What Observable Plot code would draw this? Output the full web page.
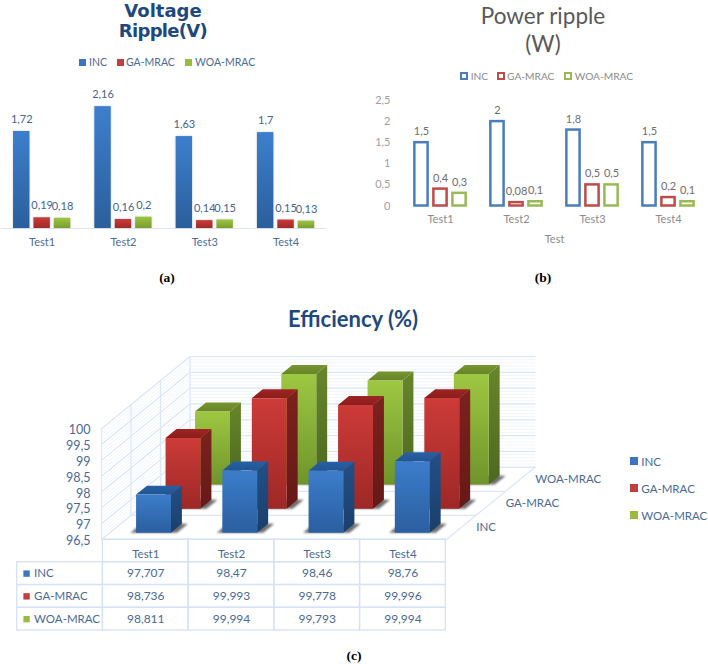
<!DOCTYPE html>
<html><head><meta charset="utf-8">
<script src="https://cdn.jsdelivr.net/npm/d3@7"></script>
<script src="https://cdn.jsdelivr.net/npm/@observablehq/plot@0.6"></script>
<style>
html,body{margin:0;padding:0;background:#fff}
#page{position:relative;width:708px;height:664px;overflow:hidden;font-family:Lato,sans-serif}
#page svg.plot,#page>svg{position:absolute;background:transparent;max-width:none}
.t{position:absolute;white-space:nowrap;line-height:1}
.sw{position:absolute;box-sizing:border-box}
</style></head><body><div id="page"></div>
<script>
const tests = ["Test1","Test2","Test3","Test4"];
const seriesNames = ["INC","GA-MRAC","WOA-MRAC"];

const voltageINC = [1.72,2.16,1.63,1.7];
const voltageGA  = [0.19,0.16,0.14,0.15];
const voltageWOA = [0.18,0.2,0.15,0.13];

const powerINC = [1.5,2,1.8,1.5];
const powerGA  = [0.4,0.08,0.5,0.2];
const powerWOA = [0.3,0.1,0.5,0.1];

const effINC = [97.707,98.47,98.46,98.76];
const effGA  = [98.736,99.993,99.778,99.996];
const effWOA = [98.811,99.994,99.793,99.994];

const powerTicks = [0,0.5,1,1.5,2,2.5];
const effTicks = [96.5,97,97.5,98,98.5,99,99.5,100];

const colors = {"INC":"#3a76bf","GA-MRAC":"#c0403d","WOA-MRAC":"#9abb3f"};
const outline = {"INC":"#4a7ebb","GA-MRAC":"#be4b48","WOA-MRAC":"#98b954"};
const comma = v => String(v).replace(".",",");
const table = vals => seriesNames.flatMap((s,k)=>tests.map((t,i)=>({series:s,test:t,testIndex:i,row:k,value:vals[k][i]})));

const page = document.getElementById("page");
function add(node,left,top){node.style.position="absolute";node.style.left=left+"px";node.style.top=top+"px";page.append(node);}
function text(str,x,y,css,anchor="left"){
  const d=document.createElement("div");d.className="t";d.textContent=str;
  Object.assign(d.style,css);d.style.left=x+"px";d.style.top=y+"px";
  d.style.transform=anchor==="center"?"translate(-50%,-50%)":"translate(0,-50%)";
  page.append(d);
}
function swatch(x,y,w,h,css){const d=document.createElement("div");d.className="sw";
  Object.assign(d.style,{left:x+"px",top:(y-h/2)+"px",width:w+"px",height:h+"px"},css);page.append(d);}
function gradients(defs){return ()=>{
  const s=d3.create("svg:defs");
  for(const [id,a,b] of defs){
    const g=s.append("linearGradient").attr("id",id).attr("x1",0).attr("x2",0).attr("y1",0).attr("y2",1);
    g.append("stop").attr("offset","0%").attr("stop-color",a);
    g.append("stop").attr("offset","100%").attr("stop-color",b);
  }
  return s.node();
};}

/* ---------- (a) ---------- */
text("Voltage",163,10,{font:"bold 18px 'DejaVu Sans'",color:"#1f497d"},"center");
text("Ripple(V)",163,30,{font:"bold 18px 'DejaVu Sans'",color:"#1f497d",letterSpacing:"-0.7px"},"center");
[[79,89,"INC"],[117,126,"GA-MRAC"],[185,195,"WOA-MRAC"]].forEach(([sx,tx,s])=>{
  swatch(sx,62,7,7,{background:colors[s]});
  text(s,tx,62,{font:"10.5px Lato",color:"#4a6a96"});
});
const voltage = table([voltageINC,voltageGA,voltageWOA]);
const gradA = {"INC":["#3d7fcd","#2a5f9c"],"GA-MRAC":["#cb3a38","#a02a28"],"WOA-MRAC":["#9dc540","#7a9c30"]};
add(Plot.plot({
  width:327,height:171,marginLeft:1,marginRight:0.8,marginTop:0,marginBottom:30,
  style:{fontFamily:"Lato",fontSize:"11px",color:"#4a6d9c",background:"transparent"},
  fx:{domain:tests,padding:0,round:false},
  x:{domain:seriesNames,paddingInner:0.196,paddingOuter:0.59,axis:null,round:false},
  y:{domain:[0,2.5],axis:null},
  marks:[
    gradients(seriesNames.map(s=>["a"+s,...gradA[s]])),
    Plot.ruleY([0],{stroke:"#dfe5ec"}),
    ...seriesNames.map(s=>Plot.barY(voltage.filter(d=>d.series===s),{fx:"test",x:"series",y:"value",fill:`url(#a${s})`,imageFilter:"drop-shadow(0 0 1px #c4ccd6)"})),
    Plot.text(voltage,{fx:"test",x:"series",y:"value",text:d=>comma(d.value),dy:-12,fill:"#46648f",fontSize:11}),
    Plot.axisFx({anchor:"bottom",tickSize:0,tickPadding:10,label:null})
  ]
}),0,87);
text("(a)",167,278,{font:"bold 13.5px 'Liberation Serif'",color:"#000"},"center");

/* ---------- (b) ---------- */
text("Power ripple",543,15,{font:"22.5px Lato",color:"#595959"},"center");
text("(W)",543,43,{font:"22.5px Lato",color:"#595959"},"center");
[[460,470.7,"INC"],[496.7,507,"GA-MRAC"],[564,574.7,"WOA-MRAC"]].forEach(([sx,tx,s])=>{
  swatch(sx,75.7,8,8,{border:"2px solid "+outline[s]});
  text(s,tx,75.7,{font:"10.2px Lato",color:"#8a8a8a"});
});
const power = table([powerINC,powerGA,powerWOA]);
add(Plot.plot({
  width:354,height:156,marginLeft:48,marginRight:2,marginTop:10,marginBottom:40.5,
  style:{fontFamily:"Lato",fontSize:"11px",color:"#8c8c8c",background:"transparent"},
  fx:{domain:tests,padding:0,round:false},
  x:{domain:seriesNames,paddingInner:0.305,paddingOuter:0.65,axis:null,round:false},
  y:{domain:[0,2.5],round:false},
  marks:[
    ...seriesNames.map(s=>Plot.barY(power.filter(d=>d.series===s),{fx:"test",x:"series",y:"value",fill:"none",stroke:outline[s],strokeWidth:2.5})),
    Plot.text(power,{fx:"test",x:"series",y:"value",text:d=>comma(d.value),dy:-11,fill:"#6e6e6e",fontSize:11}),
    Plot.axisY({ticks:powerTicks,tickFormat:comma,tickSize:0,tickPadding:12,label:null,color:"#a0a0a0"}),
    Plot.axisFx({anchor:"bottom",tickSize:0,tickPadding:9,label:"Test",labelAnchor:"center",labelArrow:"none",labelOffset:36.5})
  ]
}),354,90);
text("(b)",543,278,{font:"bold 13.5px 'Liberation Serif'",color:"#000"},"center");

/* ---------- (c) ---------- */
text("Efficiency (%)",353,318,{font:"bold 22px Lato",color:"#1f497d"},"center");
seriesNames.forEach((s,k)=>{
  const y=[460.7,488,514.7][k];
  swatch(630.3,y,7.5,8,{background:colors[s]});
  text(s,641.3,y,{font:"11.5px Lato",color:"#4a6a96"});
});

const SU=0.342, SV=0.761;           // oblique shift per depth row, in scale units
const base=96.5;
const P=(u,row,v)=>({u:u+row*SU,v:v+row*SV});
const eff = table([effINC,effGA,effWOA]);
const faces = eff.flatMap(d=>{
  const x0=d.testIndex+0.305,x1=d.testIndex+0.71,r0=d.row+0.28,r1=d.row+0.65,v=d.value;
  const f=(face,pts)=>pts.map(p=>({...p,face,series:d.series,id:d.test}));
  return [
    ...f("shadow",[P(x0-0.065,r0,base),P(x1+0.07,r0,base),P(x1+0.07,r1,base),P(x0-0.065,r1,base)]),
    ...f("side",[P(x1,r0,base),P(x1,r1,base),P(x1,r1,v),P(x1,r0,v)]),
    ...f("top",[P(x0,r0,v),P(x1,r0,v),P(x1,r1,v),P(x0,r1,v)]),
    ...f("front",[P(x0,r0,base),P(x1,r0,base),P(x1,r0,v),P(x0,r0,v)])
  ];
});
const minor=d3.range(0,36).map(k=>base+k/10);
const seg=(id,a,b)=>[{...a,id},{...b,id}];
const wallMinor=minor.flatMap(v=>[...seg("b"+v,P(0,3,v),P(4,3,v)),...seg("l"+v,P(0,0,v),P(0,3,v))]);
const wallMajor=effTicks.flatMap(v=>[...seg("b"+v,P(0,3,v),P(4,3,v)),...seg("l"+v,P(0,0,v),P(0,3,v))]);
const floorLines=[
  ...[0,1,2,3].flatMap(r=>[...seg("f"+r,P(0,r,base),P(4,r,base)),...seg("v"+r,P(0,r,base),P(0,r,100))]),
  ...seg("e",P(4,0,base),P(4,3,base))
];
const gradC={
 "INC":{front:["#3c7dcb","#2b5f9f"],side:["#234f86","#1b3f6c"],top:["#2660a6","#225691"]},
 "GA-MRAC":{front:["#cd3b38","#9d2826"],side:["#7d211e","#651917"],top:["#a02422","#8a1e1c"]},
 "WOA-MRAC":{front:["#9ec742","#6f942a"],side:["#67862b","#4d681f"],top:["#76952f","#688527"]}
};
const defsC=seriesNames.flatMap(s=>["front","side","top"].map(fc=>[`c${fc}${s}`,...gradC[s][fc]]));
const rowLabels=seriesNames.map((s,k)=>({label:s,...P(4,k+0.5,base)}));
add(Plot.plot({
  width:610,height:211,marginLeft:101,marginRight:75.5,marginTop:16,marginBottom:12,
  style:{fontFamily:"Lato",fontSize:"12.5px",color:"#4a6a96",background:"transparent"},
  x:{domain:[0,4+3*SU],axis:null},
  y:{domain:[base,100+3*SV]},
  marks:[
    gradients(defsC),
    Plot.line(wallMinor,{x:"u",y:"v",z:"id",stroke:"#eef3fb",strokeWidth:0.8}),
    Plot.line(wallMajor,{x:"u",y:"v",z:"id",stroke:"#dbe6f6",strokeWidth:1.2}),
    Plot.line(floorLines,{x:"u",y:"v",z:"id",stroke:"#dbe6f6",strokeWidth:1.2}),
    ...[2,1,0].flatMap(k=>{
      const s=seriesNames[k], rows=faces.filter(d=>d.series===s);
      return [
        Plot.line(rows.filter(d=>d.face==="shadow"),{x:"u",y:"v",z:"id",fill:"#4a4a4a",stroke:"none",fillOpacity:0.8,imageFilter:"blur(0.8px)"}),
        ...["side","top","front"].map(fc=>Plot.line(rows.filter(d=>d.face===fc),{x:"u",y:"v",z:"id",fill:`url(#c${fc}${s})`,stroke:"none"}))
      ];
    }),
    Plot.axisY({ticks:effTicks,tickFormat:comma,tickSize:0,tickPadding:11,label:null,dy:1.5}),
    Plot.text(rowLabels,{x:"u",y:"v",text:"label",textAnchor:"start",dx:15,fill:"#4a6a96",fontSize:11.5})
  ]
}),0,340);

// data table under the 3D chart
const cols=["",...tests], rows=["",...seriesNames];
const cells=[
  ...tests.map(t=>({col:t,row:""})),
  ...seriesNames.flatMap(s=>cols.map(c=>({col:c,row:s})))
];
add(Plot.plot({
  width:460,height:93,marginLeft:16.7,marginRight:14.7,marginTop:1,marginBottom:1,
  style:{fontFamily:"Lato",fontSize:"12px",background:"transparent"},
  x:{domain:cols,padding:0,axis:null,round:false},
  y:{domain:rows,padding:0,axis:null,round:false},
  marks:[
    Plot.cell(cells,{x:"col",y:"row",fill:"none",stroke:"#d5e2f5",strokeWidth:1.3}),
    Plot.text(tests,{x:d=>d,y:()=>"",text:d=>d,fill:"#4a6a96",fontSize:11.5,dy:3}),
    Plot.text(eff,{x:"test",y:"series",text:d=>comma(d.value),fill:"#4a6a96",fontSize:12}),
    Plot.dot(seriesNames,{x:()=>"",y:d=>d,symbol:"square",r:3.6,fill:d=>colors[d],dx:-33.5}),
    Plot.text(seriesNames,{x:()=>"",y:d=>d,text:d=>d,textAnchor:"start",dx:-26,fill:"#4a6a96",fontSize:11.5})
  ]
}),0,538);
text("(c)",354,656,{font:"bold 13.5px 'Liberation Serif'",color:"#000"},"center");
</script></body></html>
